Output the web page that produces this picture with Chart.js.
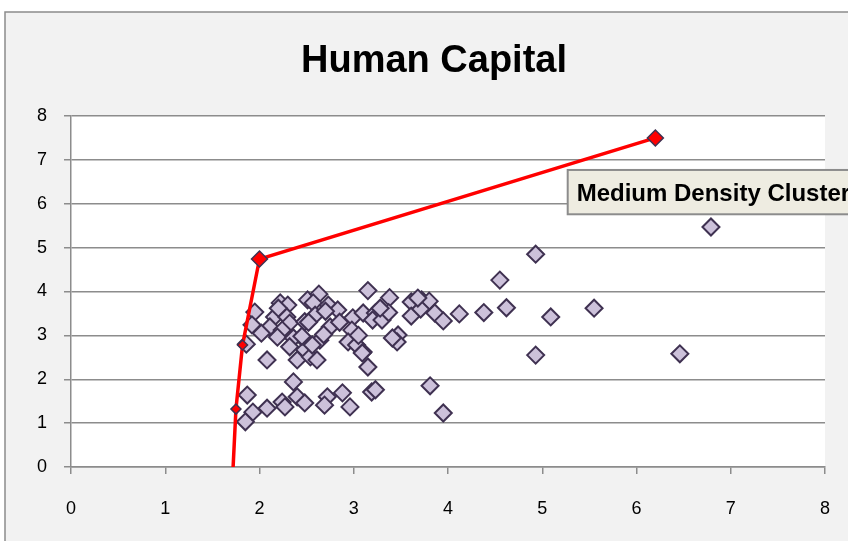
<!DOCTYPE html>
<html>
<head>
<meta charset="utf-8">
<script src="https://cdn.jsdelivr.net/npm/chart.js@4"></script>
<style>
    body { margin: 0; background: #fff; }
    canvas { display: block; }
</style>
</head>
<body>
<canvas id="chart" width="848" height="541"></canvas>
<script>
// بيانات الرسم
const chartTitle = 'Human Capital';
const clusterLabel = 'Medium Density Cluster';
const axisTicks = [0, 1, 2, 3, 4, 5, 6, 7, 8];

// نقاط التشتت (x و y)
const pointsX = [
    1.95, 2.22, 2.30, 2.51, 2.16, 2.29, 1.92, 2.11, 2.32, 2.48,
    2.24, 1.86, 2.19, 2.36, 2.32, 2.50, 2.48, 2.08, 2.40, 2.54,
    2.63, 3.15, 3.38, 2.57, 2.73, 2.83, 2.99, 3.10, 3.23, 3.20,
    3.30, 3.37, 2.59, 2.75, 2.52, 2.98, 2.64, 2.94, 2.56, 3.03,
    3.10, 2.61, 3.15, 3.61, 3.72, 3.80, 3.61, 3.71, 3.86, 3.95,
    4.12, 3.47, 3.46, 3.41, 4.38, 4.62, 4.55, 4.93, 5.09, 5.55,
    4.93, 6.46, 6.79, 3.81, 3.95, 2.36, 1.87, 2.08, 1.93, 1.85,
    2.24, 2.27, 2.40, 2.48, 2.72, 2.69, 2.88, 2.96, 3.19, 3.23,
    3.68, 3.09, 2.70, 2.85, 3.05, 2.45, 2.20, 2.68, 3.28, 2.02
];
const pointsY = [
    3.53, 3.74, 3.69, 3.81, 3.42, 3.42, 3.24, 3.19, 3.28, 3.31,
    3.12, 2.80, 2.96, 2.94, 2.74, 2.85, 2.67, 2.44, 2.44, 2.51,
    3.94, 4.02, 3.86, 3.74, 3.69, 3.58, 3.40, 3.51, 3.51, 3.35,
    3.35, 3.52, 3.46, 3.19, 3.30, 3.12, 2.89, 2.85, 2.78, 2.78,
    2.62, 2.44, 2.28, 3.76, 3.81, 3.78, 3.44, 3.60, 3.51, 3.33,
    3.49, 3.01, 2.85, 2.94, 3.52, 3.63, 4.26, 4.85, 3.42, 3.62,
    2.55, 2.58, 5.47, 1.85, 1.23, 1.94, 1.64, 1.34, 1.25, 1.03,
    1.48, 1.37, 1.60, 1.46, 1.60, 1.41, 1.69, 1.37, 1.71, 1.76,
    3.85, 2.60, 3.55, 3.30, 3.00, 2.98, 3.62, 3.02, 3.62, 3.05
];

// خط الحدود الأحمر
const frontierX = [1.72, 1.75, 1.82, 2.00, 6.20];
const frontierY = [0.00, 1.32, 2.78, 4.74, 7.50];

const scatterData = pointsX.map((x, i) => ({ x: x, y: pointsY[i] }));
const frontierData = frontierX.map((x, i) => ({ x: x, y: frontierY[i] }));

// خلفية الإطار ومنطقة الرسم
const framePlugin = {
    id: 'frame',
    beforeDraw(chart) {
        const ctx = chart.ctx;
        const area = chart.chartArea;
        ctx.save();
        ctx.fillStyle = '#ffffff';
        ctx.fillRect(0, 0, chart.width, chart.height);
        ctx.fillStyle = '#f2f2f2';
        ctx.fillRect(5, 12, chart.width - 5, chart.height - 12);
        ctx.strokeStyle = '#8c8c8c';
        ctx.lineWidth = 1.5;
        ctx.beginPath();
        ctx.moveTo(5, chart.height);
        ctx.lineTo(5, 12);
        ctx.lineTo(chart.width, 12);
        ctx.stroke();
        ctx.fillStyle = '#ffffff';
        ctx.fillRect(area.left, area.top, area.right - area.left, area.bottom - area.top);

        // العنوان
        ctx.fillStyle = '#000';
        ctx.font = 'bold 38px "Liberation Sans", Arial, sans-serif';
        ctx.textAlign = 'center';
        ctx.textBaseline = 'middle';
        ctx.fillText(chartTitle, 434, 62);
        ctx.restore();
    },
    afterDraw(chart) {
        // صندوق تسمية العنقود
        const ctx = chart.ctx;
        const xs = chart.scales.x;
        const ys = chart.scales.y;
        const left = xs.getPixelForValue(5.27);
        const top = ys.getPixelForValue(6.77);
        const bottom = ys.getPixelForValue(5.76);
        ctx.save();
        ctx.fillStyle = '#eeece1';
        ctx.fillRect(left, top, chart.width - left + 5, bottom - top);
        ctx.strokeStyle = '#8c8c8c';
        ctx.lineWidth = 2;
        ctx.strokeRect(left, top, chart.width - left + 5, bottom - top);
        ctx.fillStyle = '#000';
        ctx.font = 'bold 24px "Liberation Sans", Arial, sans-serif';
        ctx.textAlign = 'left';
        ctx.textBaseline = 'middle';
        ctx.fillText(clusterLabel, left + 9, (top + bottom) / 2 + 2);
        ctx.restore();
    }
};

const tickFont = { family: '"Liberation Sans", Arial, sans-serif', size: 18 };

new Chart(document.getElementById('chart'), {
    type: 'scatter',
    data: {
        datasets: [{
            type: 'line',
            data: frontierData,
            order: 0,
            borderColor: '#ff0000',
            borderWidth: 3.5,
            tension: 0,
            fill: false,
            pointStyle: 'rectRot',
            pointRadius: [0, 5, 5, 8, 8],
            pointBackgroundColor: '#ff0000',
            pointBorderColor: '#3f3151',
            pointBorderWidth: 1.5
        }, {
            data: scatterData,
            order: 1,
            pointStyle: 'rectRot',
            pointRadius: 8.5,
            pointBackgroundColor: '#ccc1da',
            pointBorderColor: '#3f3151',
            pointBorderWidth: 2
        }]
    },
    options: {
        responsive: false,
        animation: false,
        devicePixelRatio: 1,
        layout: { padding: { left: 5, right: 0, top: 116, bottom: 0 } },
        plugins: {
            legend: { display: false },
            tooltip: { enabled: false },
            title: { display: false }
        },
        scales: {
            x: {
                type: 'linear',
                min: 0,
                max: 8,
                afterFit: (scale) => {
                    scale.height = 74;
                    scale.paddingRight = 23;
                },
                afterBuildTicks: (scale) => { scale.ticks = axisTicks.map(v => ({ value: v })); },
                ticks: { stepSize: 1, color: '#000', font: tickFont, padding: 24 },
                grid: { drawOnChartArea: false, drawTicks: true, tickLength: 7, color: '#8c8c8c', lineWidth: 1.5 },
                border: { color: '#8c8c8c', width: 1.5 }
            },
            y: {
                type: 'linear',
                min: 0,
                max: 8,
                afterFit: (scale) => { scale.width = 66; },
                afterBuildTicks: (scale) => { scale.ticks = axisTicks.map(v => ({ value: v })); },
                ticks: { stepSize: 1, color: '#000', font: tickFont, padding: 17 },
                grid: { drawTicks: true, tickLength: 7, color: '#8c8c8c', lineWidth: 1.5 },
                border: { color: '#8c8c8c', width: 1.5 }
            }
        }
    },
    plugins: [framePlugin]
});
</script>
</body>
</html>
